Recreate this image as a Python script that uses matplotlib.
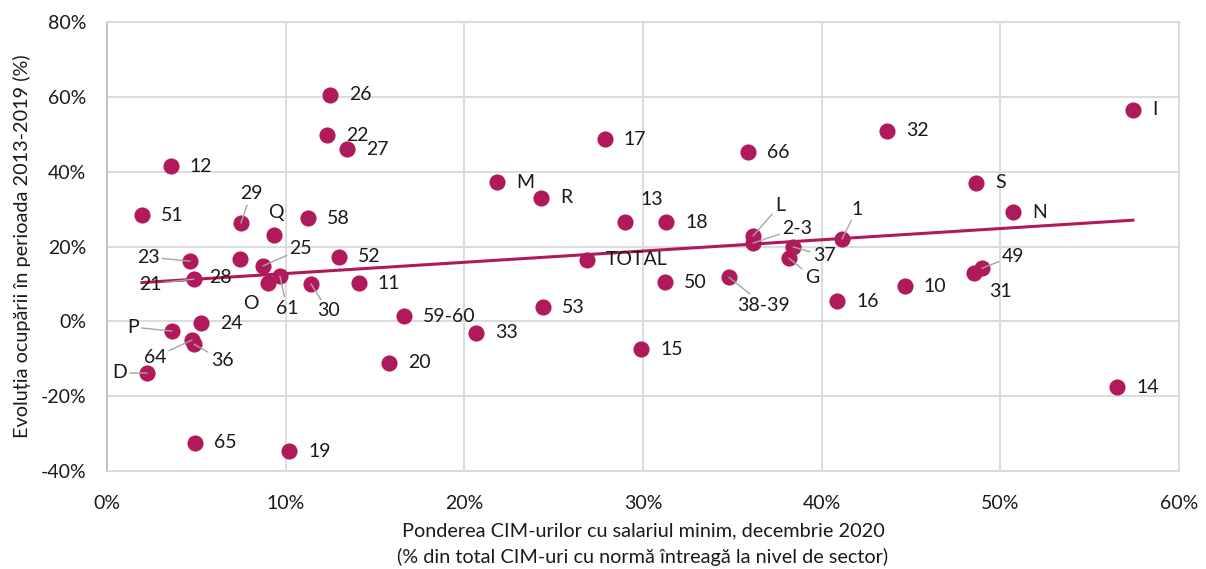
import numpy as np
import matplotlib
matplotlib.use('Agg')
import matplotlib.pyplot as plt
from matplotlib.ticker import FuncFormatter

plt.rcParams['font.family'] = ['Lato', 'DejaVu Sans']

# date: ponderea CIM cu salariul minim (%) si evolutia ocuparii (%)
sectoare = ['12', '51', '29', 'Q', '58', '23', '28', '25', '52', '21',
            '61', 'O', '30', '11', '59-60', '24', 'P', '64', '36', 'D',
            '65', '19', '20', '26', '22', '27', 'M', 'R', '17', '13',
            '18', 'TOTAL', '50', '33', '53', '15', '66', 'L', '2-3', '38-39',
            '37', 'G', '1', '16', '10', '32', 'S', 'N', 'I', '49',
            '31', '14']
pondere = [3.58, 1.96, 7.50, 9.35, 11.25, 4.65, 7.44, 8.73, 12.98, 4.87,
           9.68, 9.01, 11.42, 14.10, 16.62, 5.26, 3.64, 4.76, 4.87, 2.24,
           4.93, 10.19, 15.78, 12.48, 12.31, 13.43, 21.83, 24.29, 27.87, 28.99,
           31.29, 26.87, 31.23, 20.65, 24.40, 29.89, 35.88, 36.16, 36.16, 34.81,
           38.40, 38.17, 41.14, 40.86, 44.66, 43.66, 48.64, 50.71, 57.42, 48.97,
           48.53, 56.53]
evolutie = [41.5, 28.4, 26.3, 23.1, 27.6, 16.1, 16.6, 14.8, 17.2, 11.3,
            12.1, 10.2, 10.0, 10.2, 1.4, -0.5, -2.6, -5.0, -6.1, -13.8,
            -32.5, -34.7, -11.1, 60.5, 49.8, 46.0, 37.2, 33.0, 48.7, 26.5,
            26.5, 16.4, 10.5, -3.1, 3.8, -7.4, 45.2, 22.8, 20.9, 11.8,
            19.9, 16.9, 22.0, 5.4, 9.4, 50.9, 37.0, 29.2, 56.5, 14.2,
            12.9, -17.6]

# pozitia etichetelor (offset in pixeli fata de punct, True = linie de legatura)
label_pos = {
    '29': (10, 29, True), 'Q': (2, 22, False), '23': (-42, 4, True),
    '28': (-19, -18, False), '25': (38, 17, True), '21': (-44, -5, True),
    '61': (7, -32, True), 'O': (-17, -20, False), '30': (17, -27, True),
    'P': (-39, 4, True), '64': (-37, -17, True),
    '36': (28, -16, True), 'D': (-27, 0, True), '13': (27, 23, False),
    'L': (27, 31, True), '2-3': (44, 15, True), '38-39': (35, -28, True),
    '37': (31, -9, True), 'G': (23, -19, True), '1': (15, 30, True),
    '49': (31, 12, True), '31': (26, -18, False),
}

culoare = '#B01A5A'
text_col = '#1a1a1a'
grid_col = '#D9D9D9'
fs = 14

fig = plt.figure(figsize=(12.06, 5.69), dpi=100)
ax = fig.add_axes([0.0887, 0.1722, 0.8889, 0.7891])

ax.scatter(pondere, evolutie, s=135, color=culoare, zorder=3, linewidths=0)

# linie de trend liniara
x = np.array(pondere)
y = np.array(evolutie)
a, b = np.polyfit(x, y, 1)
xt = np.array([x.min(), x.max()])
ax.plot(xt, a * xt + b, color=culoare, lw=2.2, zorder=2)

for nume, xi, yi in zip(sectoare, pondere, evolutie):
    if nume in label_pos:
        dx, dy, leader = label_pos[nume]
        ha = 'center'
    else:
        dx, dy, leader = 19, 0, False
        ha = 'left'
    arrow = None
    if leader:
        arrow = dict(arrowstyle='-', color='#A6A6A6', lw=1, shrinkA=0, shrinkB=0)
    ax.annotate(nume, (xi, yi), xytext=(dx, dy), textcoords='offset pixels',
                ha=ha, va='center', fontsize=fs, color=text_col, zorder=4,
                arrowprops=arrow)

ax.set_xlim(0, 60)
ax.set_ylim(-40, 80)
ax.set_xticks(np.arange(0, 61, 10))
ax.set_yticks(np.arange(-40, 81, 20))
ax.xaxis.set_major_formatter(FuncFormatter(lambda v, p: f'{v:.0f}%'))
ax.yaxis.set_major_formatter(FuncFormatter(lambda v, p: f'{v:.0f}%'))
ax.grid(True, color=grid_col, lw=1.3, zorder=0)
ax.set_axisbelow(True)
for s in ax.spines.values():
    s.set_color(grid_col)
    s.set_linewidth(1.3)
ax.spines['left'].set_color('#BFBFBF')
ax.tick_params(length=0, labelsize=fs, colors=text_col)
ax.tick_params(axis='y', pad=15)
ax.tick_params(axis='x', pad=17)

ax.set_xlabel('Ponderea CIM-urilor cu salariul minim, decembrie 2020\n'
              '(% din total CIM-uri cu normă întreagă la nivel de sector)',
              fontsize=14.3, color=text_col, labelpad=8, linespacing=1.55)
ax.set_ylabel('Evoluția ocupării în perioada 2013-2019 (%)', fontsize=14.3,
              color=text_col, labelpad=7)

fig.savefig('out.png', dpi=100)
